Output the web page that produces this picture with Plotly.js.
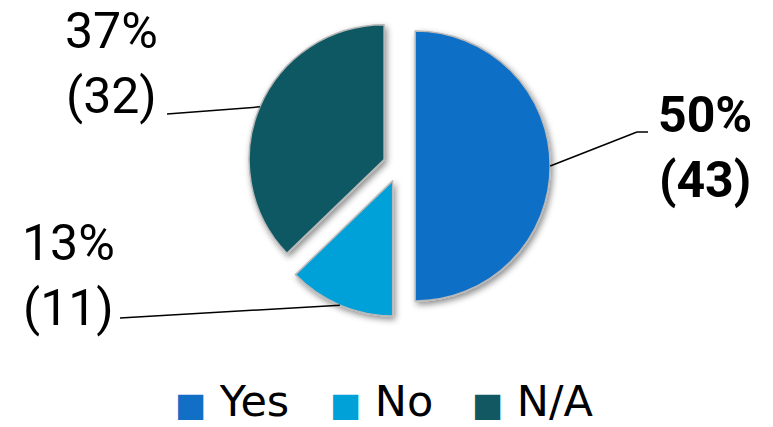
<!DOCTYPE html>
<html>
<head>
<meta charset="utf-8">
<script src="https://cdn.plot.ly/plotly-3.0.1.min.js"></script>
<style>
html,body{margin:0;padding:0;background:#fff;}
#chart{width:773px;height:427px;}
</style>
</head>
<body>
<div id="chart"></div>
<script>
// ---- data ----
const labels = ['Yes', 'No', 'N/A'];
const values = [43, 11, 32];
const colors = ['#1170C6', '#00A0D8', '#115862'];
const boldLabel = [true, false, false];

// ---- layout constants (pixels) ----
const W = 773, H = 427;
const pieCx = 399, pieCy = 166, pieR = 135, pull = 0.12;
const labelPos = [[705, 148], [68, 275], [112, 64]];
const lineEnds = [[[637, 132], [648, 132]], [[120, 318]], [[167, 114]]];
const legendX = [174, 329, 471];

const half = pieR * (1 + pull);
const domX = [(pieCx - half) / W, (pieCx + half) / W];
const domY = [1 - (pieCy + half) / H, 1 - (pieCy - half) / H];

const total = values.reduce((a, b) => a + b, 0);
const px = x => x / W, py = y => 1 - y / H;

const annotations = [];
const shapes = [];
let cum = 0;
values.forEach((v, i) => {
  const mid = (cum + v / 2) / total;
  cum += v;
  const th = 2 * Math.PI * mid;
  const d = pieR * (1 + pull);
  const ax = pieCx + d * Math.sin(th);
  const ay = pieCy - d * Math.cos(th);
  let prev = [ax, ay];
  lineEnds[i].forEach(pt => {
    shapes.push({type: 'line', xref: 'paper', yref: 'paper',
      x0: px(prev[0]), y0: py(prev[1]), x1: px(pt[0]), y1: py(pt[1]),
      line: {color: '#000', width: 1.5}});
    prev = pt;
  });
  const pct = Math.round(v / total * 100) + '%';
  let txt = pct + '<br>(' + v + ')';
  if (boldLabel[i]) txt = '<b>' + txt + '</b>';
  annotations.push({xref: 'paper', yref: 'paper', x: px(labelPos[i][0]), y: py(labelPos[i][1]),
    xanchor: 'center', yanchor: 'middle', align: 'center', showarrow: false,
    text: txt, font: {family: 'Roboto, sans-serif', size: 50, color: '#000'}});
  // legend entry
  annotations.push({xref: 'paper', yref: 'paper', x: px(legendX[i]), y: 0,
    xanchor: 'left', yanchor: 'bottom', showarrow: false, borderpad: 0,
    text: '<span style="color:' + colors[i] + ';font-size:33px">\u25A0</span> ' + labels[i],
    font: {family: 'DejaVu Sans, sans-serif', size: 43, color: '#000'}});
});

const trace = {
  type: 'pie', labels: labels, values: values, sort: false,
  direction: 'clockwise', rotation: 0,
  pull: values.map(() => pull),
  marker: {colors: colors, line: {color: '#b8b8b8', width: 1.5}},
  textinfo: 'none', hoverinfo: 'none',
  domain: {x: domX, y: domY}
};

const layout = {
  width: W, height: H,
  margin: {l: 0, r: 0, t: 0, b: 0},
  paper_bgcolor: '#fff',
  showlegend: false,
  annotations: annotations,
  shapes: shapes
};

Plotly.newPlot('chart', [trace], layout, {staticPlot: true}).then(gd => {
  const svg = gd.querySelector('svg.main-svg');
  const ns = 'http://www.w3.org/2000/svg';
  let defs = svg.querySelector('defs');
  if (!defs) { defs = document.createElementNS(ns, 'defs'); svg.insertBefore(defs, svg.firstChild); }
  const f = document.createElementNS(ns, 'filter');
  f.setAttribute('id', 'pieShadow');
  f.setAttribute('x', '-20%'); f.setAttribute('y', '-20%');
  f.setAttribute('width', '140%'); f.setAttribute('height', '140%');
  const ds = document.createElementNS(ns, 'feDropShadow');
  ds.setAttribute('dx', '2'); ds.setAttribute('dy', '3');
  ds.setAttribute('stdDeviation', '3'); ds.setAttribute('flood-color', '#000');
  ds.setAttribute('flood-opacity', '0.45');
  f.appendChild(ds); defs.appendChild(f);
  gd.querySelectorAll('.slice path.surface').forEach(p => p.setAttribute('filter', 'url(#pieShadow)'));
});
</script>
</body>
</html>
